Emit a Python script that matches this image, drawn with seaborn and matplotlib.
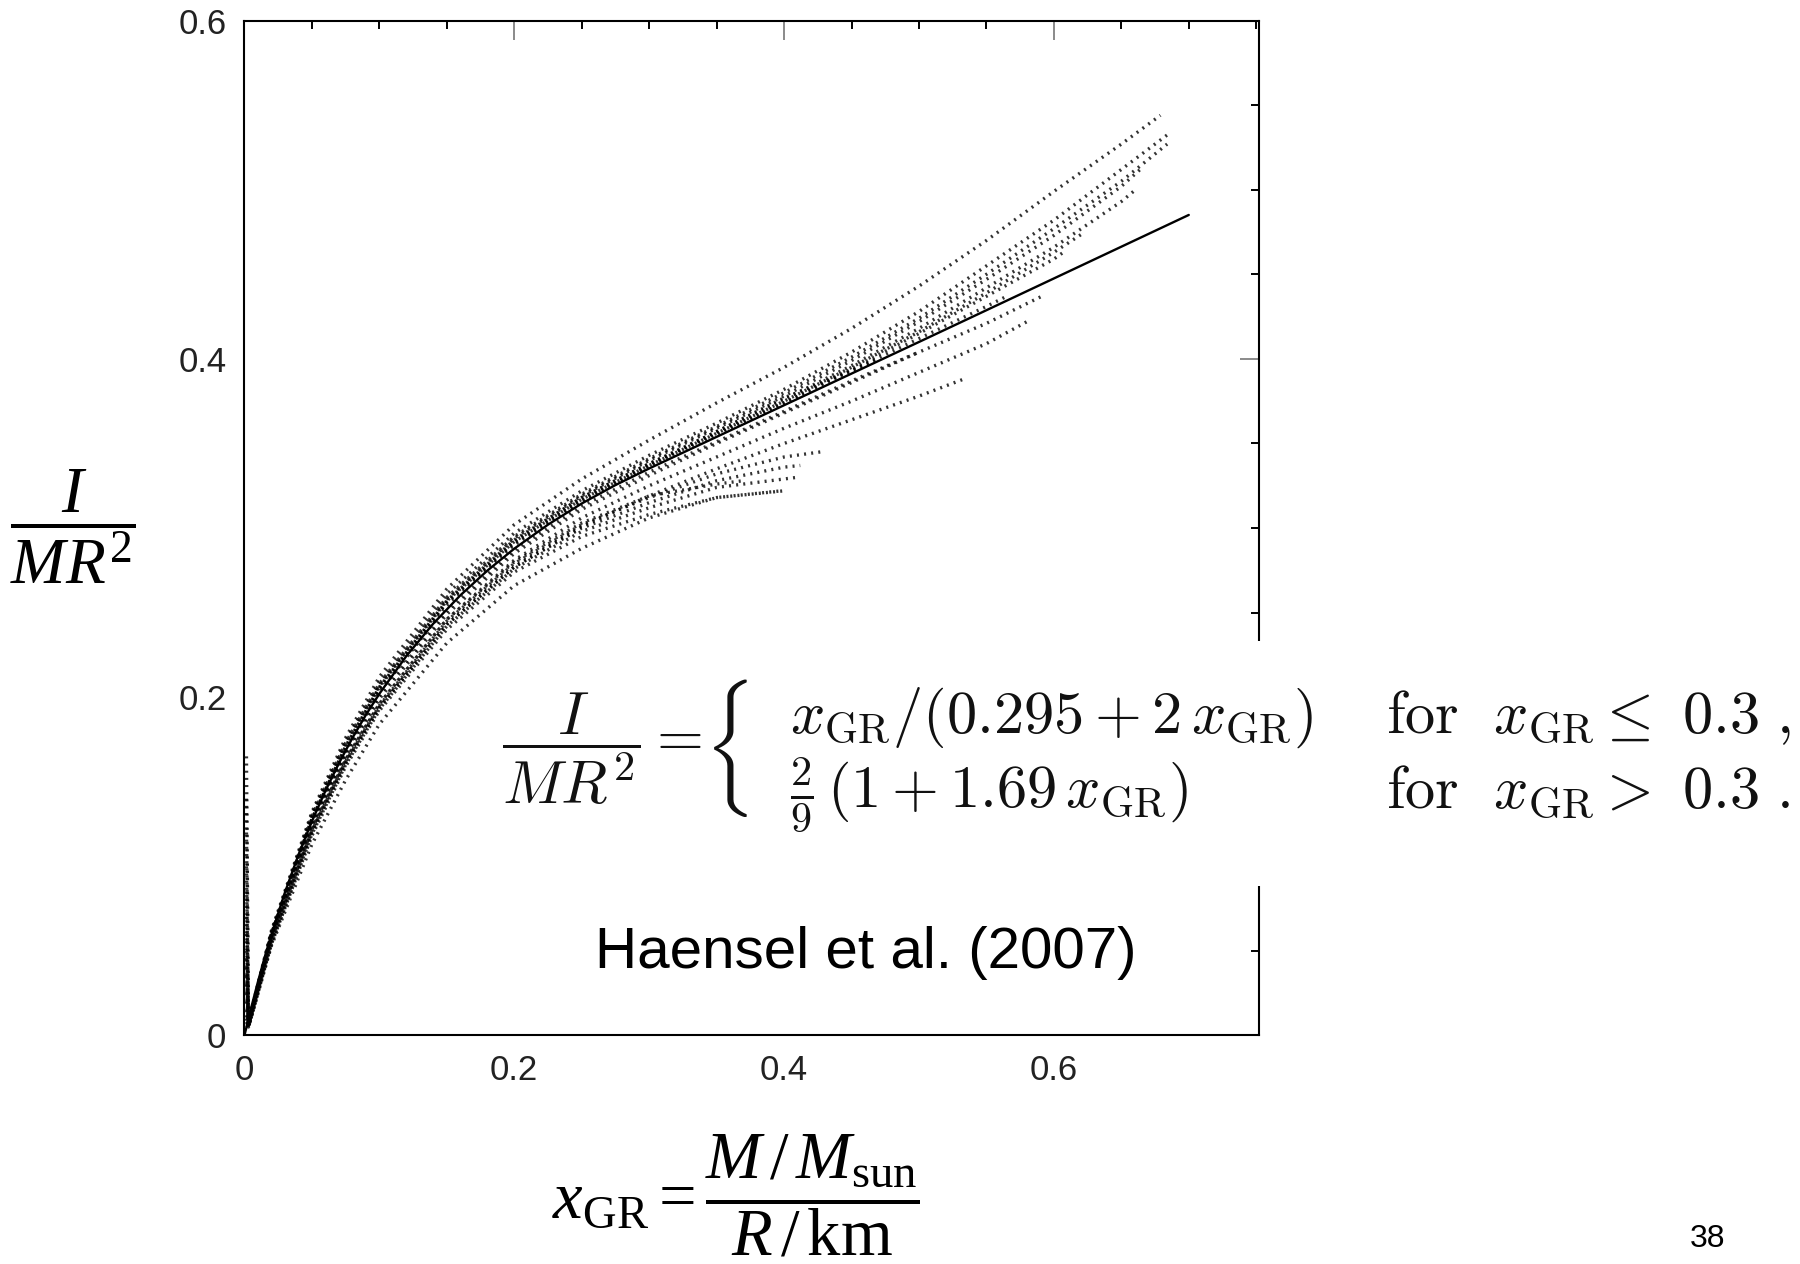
import matplotlib
matplotlib.use("Agg")
import pandas as pd
import matplotlib.pyplot as plt
import seaborn as sns
from matplotlib.patches import Rectangle
from matplotlib.ticker import MultipleLocator, FuncFormatter
from matplotlib.transforms import Bbox, TransformedBbox

# ---------------------------------------------------------------------------
# I/(M R^2) versus x_GR for a set of neutron-star equations of state.
# Each EOS curve is sampled on a common x grid (up to its last point) and
# then carries its own end point (maximum-mass configuration).
# ---------------------------------------------------------------------------
x_grid = [0.0015, 0.003, 0.02, 0.05, 0.075, 0.1, 0.15, 0.2, 0.25, 0.3,
          0.35, 0.4, 0.45, 0.5, 0.55, 0.6, 0.65]

eos_A1 = [0.165, 0.008, 0.062, 0.132, 0.176, 0.212, 0.264, 0.302, 0.329, 0.352,
          0.374, 0.395, 0.418, 0.443, 0.470, 0.499, 0.527]
end_A1 = (0.679, 0.544)
eos_A2 = [0.140, 0.008, 0.061, 0.131, 0.174, 0.209, 0.261, 0.297, 0.322, 0.343,
          0.362, 0.382, 0.404, 0.428, 0.455, 0.482, 0.512]
end_A2 = (0.685, 0.533)
eos_A3 = [0.120, 0.007, 0.061, 0.130, 0.173, 0.208, 0.259, 0.295, 0.320, 0.341,
          0.360, 0.380, 0.401, 0.424, 0.450, 0.477, 0.505]
end_A3 = (0.684, 0.527)
eos_A4 = [0.100, 0.007, 0.060, 0.129, 0.172, 0.207, 0.258, 0.294, 0.319, 0.340,
          0.359, 0.378, 0.399, 0.422, 0.447, 0.473, 0.502]
end_A4 = (0.664, 0.512)
eos_A5 = [0.085, 0.007, 0.060, 0.128, 0.171, 0.206, 0.257, 0.293, 0.318, 0.338,
          0.357, 0.376, 0.396, 0.418, 0.442, 0.466, 0.493]
end_A5 = (0.659, 0.499)
eos_A6 = [0.070, 0.007, 0.060, 0.128, 0.170, 0.206, 0.257, 0.292, 0.317, 0.337,
          0.356, 0.375, 0.395, 0.416, 0.439, 0.463]
end_A6 = (0.623, 0.475)
eos_A7 = [0.060, 0.007, 0.059, 0.127, 0.169, 0.205, 0.256, 0.291, 0.316, 0.336,
          0.355, 0.374, 0.394, 0.415, 0.437, 0.459]
end_A7 = (0.607, 0.463)
eos_M1 = [0.030, 0.007, 0.060, 0.128, 0.170, 0.205, 0.256, 0.292, 0.318, 0.338,
          0.356, 0.374, 0.393, 0.412, 0.431]
end_M1 = (0.565, 0.437)
eos_M2 = [0.025, 0.006, 0.059, 0.126, 0.168, 0.203, 0.254, 0.290, 0.316, 0.337,
          0.357, 0.377, 0.393]
end_M2 = (0.470, 0.400)
eos_N1 = [0.020, 0.006, 0.059, 0.125, 0.167, 0.201, 0.251, 0.287, 0.313, 0.333,
          0.351, 0.369, 0.387]
end_N1 = (0.500, 0.404)
eos_B1 = [0.050, 0.006, 0.058, 0.124, 0.165, 0.199, 0.249, 0.285, 0.311, 0.331,
          0.350, 0.368, 0.386, 0.404, 0.421]
end_B1 = (0.591, 0.437)
eos_B2 = [0.040, 0.006, 0.057, 0.122, 0.163, 0.196, 0.246, 0.281, 0.306, 0.325,
          0.342, 0.359, 0.375, 0.392, 0.409]
end_B2 = (0.580, 0.422)
eos_B3 = [0.035, 0.006, 0.057, 0.121, 0.162, 0.194, 0.243, 0.277, 0.301, 0.319,
          0.335, 0.350, 0.364, 0.378]
end_B3 = (0.533, 0.388)
eos_C1 = [0.015, 0.005, 0.055, 0.121, 0.162, 0.195, 0.245, 0.279, 0.302, 0.318,
          0.332, 0.342]
end_C1 = (0.427, 0.345)
eos_C2 = [0.012, 0.005, 0.055, 0.120, 0.161, 0.194, 0.243, 0.277, 0.300, 0.315,
          0.328, 0.336]
end_C2 = (0.412, 0.337)
eos_C3 = [0.010, 0.005, 0.054, 0.119, 0.160, 0.193, 0.242, 0.276, 0.298, 0.312,
          0.324, 0.329]
end_C3 = (0.410, 0.330)
eos_C4 = [0.008, 0.005, 0.054, 0.118, 0.159, 0.192, 0.240, 0.274, 0.295, 0.308,
          0.318, 0.322]
end_C4 = (0.402, 0.323)
eos_C5 = [0.045, 0.006, 0.056, 0.122, 0.163, 0.196, 0.246, 0.280, 0.303, 0.319,
          0.326]
end_C5 = (0.370, 0.328)
eos_L1 = [0.006, 0.005, 0.053, 0.113, 0.151, 0.184, 0.232, 0.266, 0.288, 0.306,
          0.318]
end_L1 = (0.398, 0.322)

# Fitting formula of Haensel et al. (2007), solid curve
fit_x = [0.0, 0.005, 0.01, 0.015, 0.02, 0.03, 0.04, 0.05, 0.06, 0.07, 0.08,
         0.09, 0.1, 0.12, 0.14, 0.16, 0.18, 0.2, 0.225, 0.25, 0.275, 0.3,
         0.5, 0.7]
fit_y = [0.0, 0.0164, 0.0317, 0.0462, 0.0597, 0.0845, 0.1067, 0.1266, 0.1446,
         0.1609, 0.1758, 0.1895, 0.2020, 0.2243, 0.2435, 0.2602, 0.2748,
         0.2878, 0.3020, 0.3145, 0.3254, 0.3352, 0.4100, 0.4851]

x_ticks = [0, 0.2, 0.4, 0.6]
y_ticks = [0, 0.2, 0.4, 0.6]

curves = [
    ("A1", eos_A1, end_A1), ("A2", eos_A2, end_A2), ("A3", eos_A3, end_A3),
    ("A4", eos_A4, end_A4), ("A5", eos_A5, end_A5), ("A6", eos_A6, end_A6),
    ("A7", eos_A7, end_A7), ("M1", eos_M1, end_M1), ("M2", eos_M2, end_M2),
    ("N1", eos_N1, end_N1), ("B1", eos_B1, end_B1), ("B2", eos_B2, end_B2),
    ("B3", eos_B3, end_B3), ("C1", eos_C1, end_C1), ("C2", eos_C2, end_C2),
    ("C3", eos_C3, end_C3), ("C4", eos_C4, end_C4), ("C5", eos_C5, end_C5),
    ("L1", eos_L1, end_L1),
]

rows = []
for name, ys, end in curves:
    xs = x_grid[:len(ys)] + [end[0]]
    yy = list(ys) + [end[1]]
    for a, b in zip(xs, yy):
        rows.append({"eos": name, "x": a, "y": b})
df = pd.DataFrame(rows)

sns.set_theme(style="white")
plt.rcParams.update({
    "font.family": ["Liberation Sans", "DejaVu Sans"],
    "mathtext.fontset": "custom",
    "mathtext.rm": "Liberation Serif",
    "mathtext.it": "Liberation Serif:italic",
    "mathtext.bf": "Liberation Serif:bold",
})

W, H = 1800, 1264
fig = plt.figure(figsize=(18, 12.64), dpi=100)
ax = fig.add_axes([0.1358, 0.1808, 0.5636, 0.8029])

sns.lineplot(data=df, x="x", y="y", units="eos", estimator=None, sort=False,
             color="black", lw=2.4, alpha=0.8, ax=ax, legend=False)
for ln in ax.lines:
    ln.set_linestyle((0, (0.6, 1.55)))

sns.lineplot(x=fit_x, y=fit_y, color="black", lw=1.7, ax=ax, sort=False)

ax.set_xlim(0, 0.752)
ax.set_ylim(0, 0.6)
ax.set_xlabel("")
ax.set_ylabel("")
ax.set_xticks(x_ticks)
ax.set_yticks(y_ticks)
ax.xaxis.set_minor_locator(MultipleLocator(0.05))
ax.yaxis.set_minor_locator(MultipleLocator(0.05))
fmt = FuncFormatter(lambda v, p: "0" if abs(v) < 1e-9 else f"{v:.1f}")
ax.xaxis.set_major_formatter(fmt)
ax.yaxis.set_major_formatter(fmt)
ax.tick_params(which="both", direction="in", top=True, right=True,
               labeltop=False, labelright=False)
ax.tick_params(which="major", length=14, width=1.4, color="#8a8a8a", pad=13,
               labelsize=25, labelcolor="#222222")
ax.tick_params(which="minor", length=6, width=1.4, color="black")
for sp in ax.spines.values():
    sp.set_visible(True)
    sp.set_color("black")
    sp.set_linewidth(1.5)

# white panel carrying the fitting formula
fig.add_artist(Rectangle((482 / W, 1 - 886 / H), 1 - 482 / W,
                         (886 - 641) / H, transform=fig.transFigure,
                         facecolor="white", edgecolor="none", zorder=10))

fs_eq = 43.5
eq_kw = dict(fontsize=fs_eq, math_fontfamily="cm", color="#111111", zorder=11)
fig.text(502 / W, 1 - 749 / H, r"$\dfrac{I}{MR^2}=$", ha="left", va="center",
         **eq_kw)
# large opening brace of the piecewise definition; only the delimiter is shown
brace = fig.text(704 / W, 1 - 748 / H,
                 r"$\left\{\,\genfrac{}{}{0}{}{|}{|}\right.$",
                 ha="left", va="center", fontsize=61, math_fontfamily="cm",
                 color="#111111", zorder=11)
brace.set_clip_box(TransformedBbox(
    Bbox([[690 / W, 1 - 860 / H], [747 / W, 1 - 635 / H]]), fig.transFigure))
brace.set_clip_on(True)
fig.text(790 / W, 1 - 733 / H, r"$x_{\mathrm{GR}}/(0.295+2\,x_{\mathrm{GR}})$",
         ha="left", va="baseline", **eq_kw)
fig.text(790 / W, 1 - 807 / H, r"$\frac{2}{9}\,(1+1.69\,x_{\mathrm{GR}})$",
         ha="left", va="baseline", **eq_kw)
fig.text(1386 / W, 1 - 733 / H, r"$\mathrm{for}\ \ x_{\mathrm{GR}}\leq\ 0.3\ ,$",
         ha="left", va="baseline", **eq_kw)
fig.text(1386 / W, 1 - 807 / H, r"$\mathrm{for}\ \ x_{\mathrm{GR}}>\ 0.3\ .$",
         ha="left", va="baseline", **eq_kw)

fig.text(595 / W, 1 - 968 / H, "Haensel et al. (2007)", ha="left",
         va="baseline", fontsize=42, family="Liberation Sans", color="black")

# axis labels
fig.text(73 / W, 1 - 527 / H, r"$\dfrac{I}{MR^2}$", ha="center", va="center",
         fontsize=47, color="black")
fig.text(736 / W, 1 - 1196 / H,
         r"$x_{\mathrm{GR}}=\dfrac{M\,/\,M_{\mathrm{sun}}}{R\,/\,\mathrm{km}}$",
         ha="center", va="center", fontsize=48, color="black")

fig.text(1708 / W, 1 - 1239 / H, "38", ha="center", va="center", fontsize=23,
         family="Liberation Sans", color="black")

fig.savefig("out.png", dpi=100, facecolor="white")
